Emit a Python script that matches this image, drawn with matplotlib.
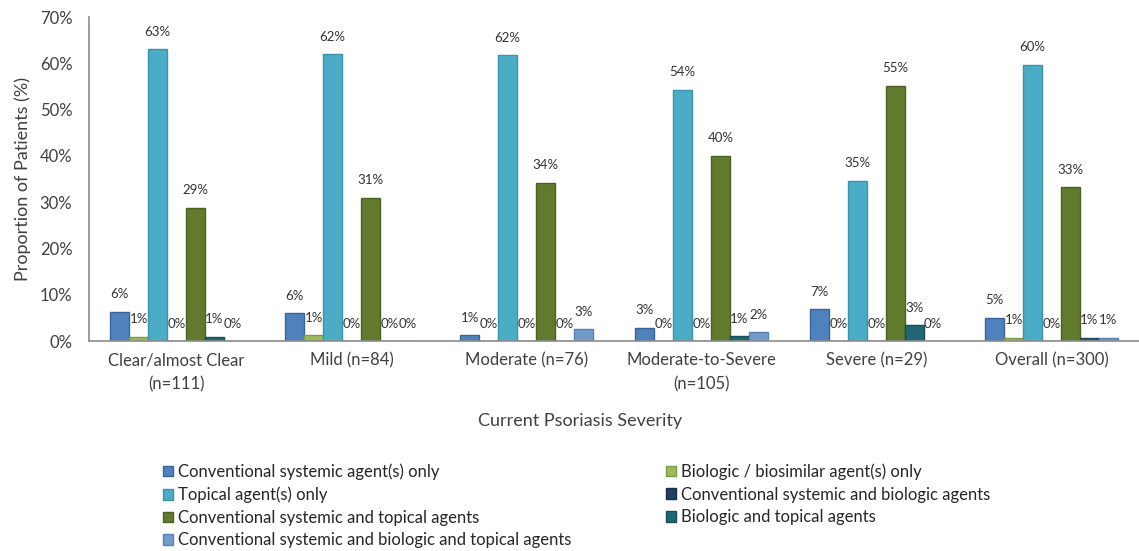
import numpy as np
import matplotlib.pyplot as plt
from matplotlib.patches import Patch

plt.rcParams['font.family'] = ['Lato', 'DejaVu Sans']

# categories and series (percent of patients)
categories = ['Clear/almost Clear\n(n=111)', 'Mild (n=84)', 'Moderate (n=76)',
              'Moderate-to-Severe\n(n=105)', 'Severe (n=29)', 'Overall (n=300)']
series_names = ['Conventional systemic agent(s) only',
                'Biologic / biosimilar agent(s) only',
                'Topical agent(s) only',
                'Conventional systemic and biologic agents',
                'Conventional systemic and topical agents',
                'Biologic and topical agents',
                'Conventional systemic and biologic and topical agents']
conv_only = [6.3, 6.0, 1.3, 2.9, 6.9, 5.0]
bio_only = [0.9, 1.2, 0.0, 0.0, 0.0, 0.7]
topical_only = [63.1, 61.9, 61.8, 54.3, 34.6, 59.7]
conv_bio = [0.0, 0.0, 0.0, 0.0, 0.0, 0.0]
conv_topical = [28.8, 31.0, 34.2, 40.0, 55.2, 33.3]
bio_topical = [0.9, 0.0, 0.0, 1.0, 3.4, 0.7]
conv_bio_topical = [0.0, 0.0, 2.6, 1.9, 0.0, 0.7]

series = [conv_only, bio_only, topical_only, conv_bio, conv_topical, bio_topical, conv_bio_topical]
colors = ['#4f81bd', '#9bbb59', '#4bacc6', '#1f3f66', '#617a2e', '#226574', '#729aca']
edges = ['#3a6499', '#7d9a44', '#3a93ab', '#15304f', '#4c6122', '#174e5a', '#5a80b0']

fig = plt.figure(figsize=(11.39, 5.51), dpi=100)
ax = fig.add_axes([89/1139, 210/551, 1050/1139, 324/551])

x = np.arange(len(categories))
w = 0.108
for i, vals in enumerate(series):
    pos = x + (i - 3) * w
    ax.bar(pos, vals, w, color=colors[i], edgecolor=edges[i], linewidth=1)
    for p, v in zip(pos, vals):
        ax.annotate(f'{v:.0f}%', (p, v), xytext=(0, 12.5), textcoords='offset points',
                    ha='center', va='center', fontsize=9.5, color='#333333')

ax.set_xlim(-0.5, 5.5)
ax.set_ylim(0, 70)
ax.set_yticks(np.arange(0, 71, 10))
ax.set_yticklabels([f'{t}%' for t in range(0, 71, 10)], fontsize=12, color='#404040')
ax.set_xticks(x)
ax.set_xticklabels(categories, fontsize=12, color='#404040', linespacing=1.6)
ax.tick_params(length=0)
ax.tick_params(axis='y', pad=12)
ax.tick_params(axis='x', pad=8)
for s in ['top', 'right']:
    ax.spines[s].set_visible(False)
for s in ['left', 'bottom']:
    ax.spines[s].set_color('#8c8c8c')
    ax.spines[s].set_linewidth(1.2)

ax.set_ylabel('Proportion of Patients (%)', fontsize=13, color='#404040', labelpad=6)
fig.text(580/1139, 1 - 421/551, 'Current Psoriasis Severity', ha='center', va='center',
         fontsize=13, color='#404040')

handles = [Patch(facecolor=colors[i], edgecolor=edges[i]) for i in range(7)]
left_idx = [0, 2, 4, 6]
right_idx = [1, 3, 5]
kw = dict(frameon=False, fontsize=12, handlelength=0.55, handleheight=0.6,
          handletextpad=0.35, labelspacing=0.4, borderpad=0, labelcolor='#262626')
fig.legend([handles[i] for i in left_idx], [series_names[i] for i in left_idx],
           loc='upper left', bbox_to_anchor=(155/1139, 1 - 455/551), **kw)
fig.legend([handles[i] for i in right_idx], [series_names[i] for i in right_idx],
           loc='upper left', bbox_to_anchor=(658/1139, 1 - 455/551), **kw)

fig.savefig('out.png', dpi=100)
